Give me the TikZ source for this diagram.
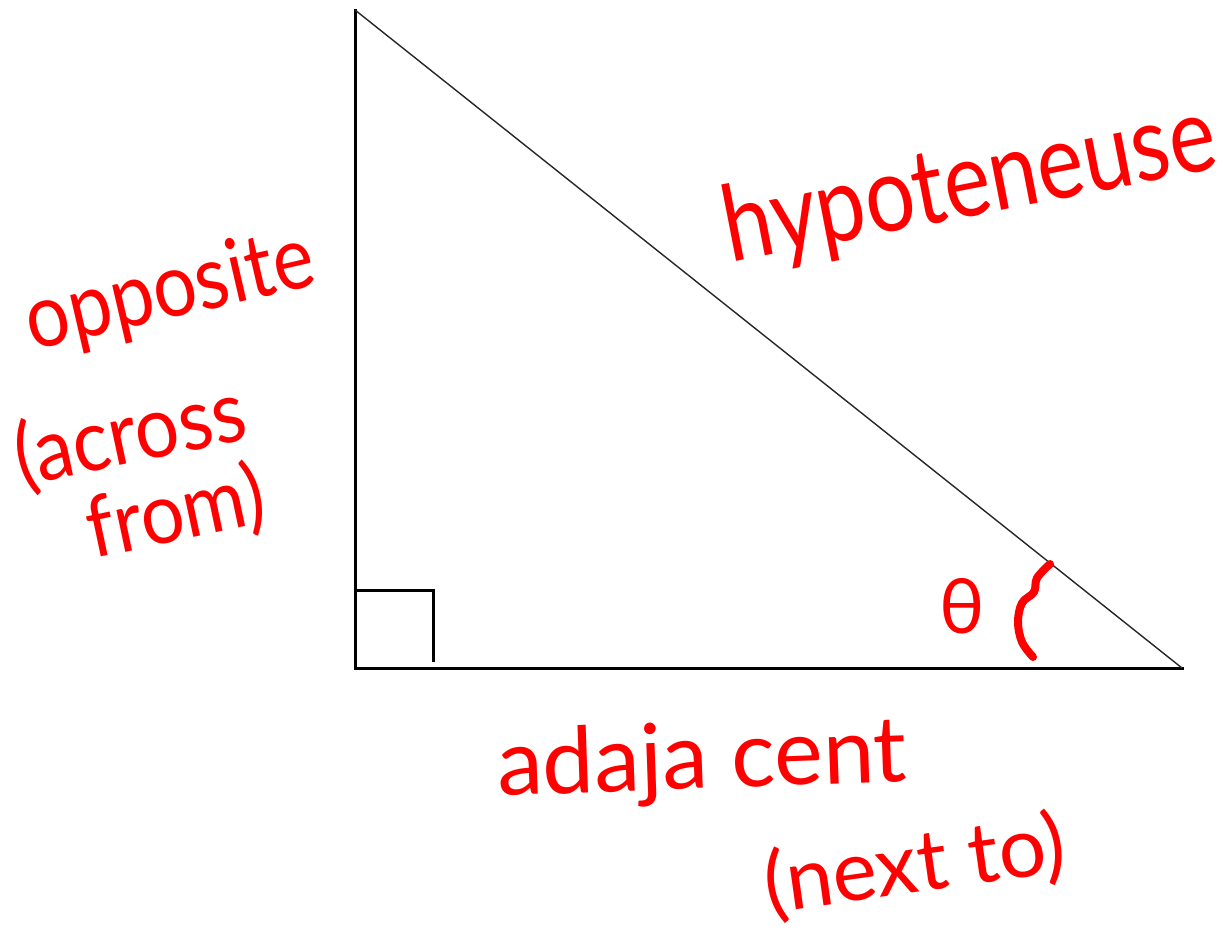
\documentclass[tikz,border=0pt]{standalone}
\usepackage{fontspec}
\usepackage{graphicx}
\setmainfont{Lato}
\definecolor{ink}{RGB}{255,0,0}
\tikzset{
  lbl/.style={text=ink, inner sep=0pt, anchor=center, font=\fontsize{#1}{#1}\selectfont},
  leg/.style={line width=3pt, line cap=rect},
  hyp/.style={line width=1.4pt, draw=black!85},
}
\begin{document}
\begin{tikzpicture}[x=1pt,y=-1pt]
\useasboundingbox (0,0) rectangle (1226,930);
\coordinate (A) at (355,10);
\coordinate (B) at (355,668);
\coordinate (C) at (1182,668);
\coordinate (Q1) at (355,590);
\coordinate (Q2) at (433,590);
\coordinate (Q3) at (433,662);
\draw[leg] (A) -- (B) -- (C);
\draw[hyp] (A) -- (C);
\draw[line width=3pt] (Q1) -- (Q2) -- (Q3);
\draw[ink, line width=8pt, line cap=round, line join=round]
  plot[smooth, tension=0.6] coordinates {(1050,564) (1037,578) (1034,592) (1022,603) (1018,622) (1022,642) (1033,657)};
\node[lbl=76] (theta) at (962,606) {θ};
\node[lbl=88, rotate=11] (hyptext) at (970,186) {\scalebox{1}[1.2]{hypoteneuse}};
\node[lbl=77, rotate=13] (opp) at (170,293) {\scalebox{1}[1.15]{opposite}};
\node[lbl=78, rotate=12] (across) at (130,436) {\scalebox{1}[1.1]{(across}};
\node[lbl=77, rotate=12] (from) at (176,514) {\scalebox{1}[1.1]{from)}};
\node[lbl=92, rotate=2] (adj) at (702,763) {adaja cent};
\node[lbl=84, rotate=8] (next) at (915,866) {(next to)};
\end{tikzpicture}
\end{document}
